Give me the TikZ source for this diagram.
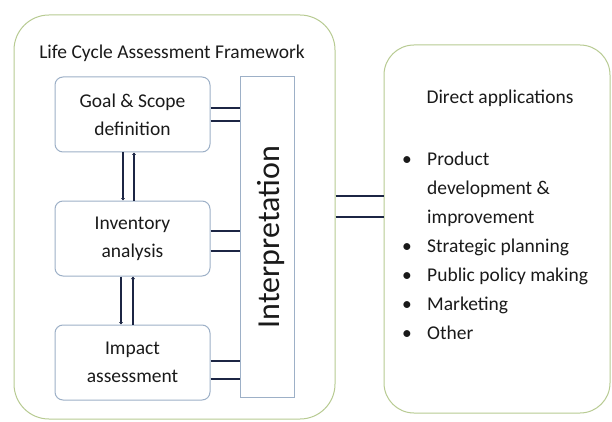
\documentclass[tikz,border=0pt]{standalone}
\usepackage{fontspec}
\setmainfont{Carlito}
\usepackage{array}
\usetikzlibrary{positioning,calc,arrows.meta}
\definecolor{framegreen}{HTML}{B8CB92}
\definecolor{boxblue}{HTML}{9DB0C7}
\definecolor{linknavy}{HTML}{1C2544}
\definecolor{textdark}{HTML}{1A1A1A}
\tikzset{
  lcabox/.style={draw=framegreen, line width=1pt, rounded corners=#1, inner sep=0pt},
  stage/.style={draw=boxblue, line width=1pt, rounded corners=8pt, minimum width=155pt, minimum height=75pt, inner sep=0pt, align=center, text=textdark, font=\fontsize{19.5}{28}\selectfont},
  link/.style={draw=linknavy, line width=2.6pt},
  tiplink/.style={link, -{Triangle[length=2.5pt,width=3.8pt]}}
}

\begin{document}
\begin{tikzpicture}[x=1pt,y=-1pt]
    \useasboundingbox (0,0) rectangle (612,422);
    \fill [white] (0,0) rectangle (612,422);

    \node [lcabox=35pt, minimum width=321pt, minimum height=404pt] (fw) at (174.5,217) {};
    \node [lcabox=30pt, minimum width=226pt, minimum height=368pt] (apps) at (497,229) {};

    \node [text=textdark, font=\fontsize{19.5}{24}\selectfont] (fwtitle) at (172,53) {Life Cycle Assessment Framework};

    \node [stage] (goal) at (132.5,114.5) {Goal \& Scope\\definition};
    \node [stage, below=48pt of goal] (inv) {Inventory\\analysis};
    \node [stage, below=48pt of inv] (imp) {Impact\\assessment};

    \node [draw=boxblue, line width=1pt, minimum width=54pt, minimum height=320pt, inner sep=0pt] (interp) at (267,237) {};
    \node [rotate=90, inner sep=0pt, text=textdark, font=\fontsize{32}{36}\selectfont] (interplabel) at (271,237) {Interpretation};

    \draw [link] ([yshift=6.5pt]goal.east) -- ([yshift=6.5pt]goal.east -| interp.west);
    \draw [link] ([yshift=-6.5pt]goal.east) -- ([yshift=-6.5pt]goal.east -| interp.west);
    \draw [link] ([yshift=7.5pt]inv.east) -- ([yshift=7.5pt]inv.east -| interp.west);
    \draw [link] ([yshift=-12.5pt]inv.east) -- ([yshift=-12.5pt]inv.east -| interp.west);
    \draw [link] ([yshift=1.5pt]imp.east) -- ([yshift=1.5pt]imp.east -| interp.west);
    \draw [link] ([yshift=-16.5pt]imp.east) -- ([yshift=-16.5pt]imp.east -| interp.west);

    \draw [tiplink] ([xshift=-9.5pt]goal.south) -- ([xshift=-9.5pt]goal.south |- inv.north);
    \draw [tiplink] ([xshift=1.5pt]goal.south |- inv.north) -- ([xshift=1.5pt]goal.south);
    \draw [tiplink] ([xshift=-11.5pt]inv.south) -- ([xshift=-11.5pt]inv.south |- imp.north);
    \draw [tiplink] ([xshift=0.5pt]inv.south |- imp.north) -- ([xshift=0.5pt]inv.south);

    \draw [link] ([yshift=21pt]fw.east) -- ([yshift=21pt]fw.east -| apps.west);
    \draw [link] (fw.east) -- (fw.east -| apps.west);

    \node [text=textdark, font=\fontsize{19.5}{24}\selectfont] (appstitle) at (500,98) {Direct applications};
    \node [anchor=north west, inner sep=0pt, text=textdark, font=\fontsize{19.5}{29}\selectfont] (applist) at (402,144.7) {%
      \begin{tabular}{@{}p{25pt}@{}l@{}}
        \textbullet & Product\\
                    & development \&\\
                    & improvement\\
        \textbullet & Strategic planning\\
        \textbullet & Public policy making\\
        \textbullet & Marketing\\
        \textbullet & Other
      \end{tabular}};
\end{tikzpicture}
\end{document}
